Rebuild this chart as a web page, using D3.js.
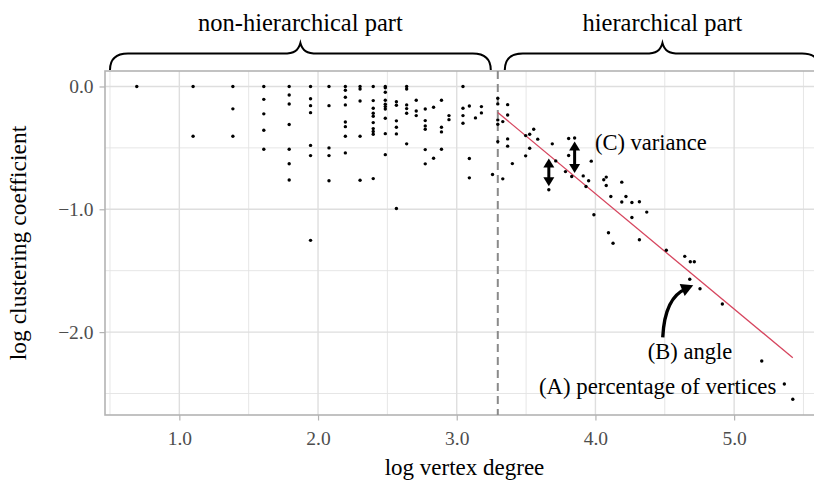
<!DOCTYPE html>
<html>
<head>
<meta charset="utf-8">
<script src="https://cdn.jsdelivr.net/npm/d3@7"></script>
<style>
  body { margin: 0; background: #fff; }
  svg { display: block; }
  text { font-family: "Liberation Serif", "Times New Roman", serif; }
</style>
</head>
<body>
<svg id="chart" width="814" height="484"></svg>
<script>
// log degree of each vertex group and the log clustering coefficients observed at that degree
const logDegree = [
  0.693, 1.099, 1.386, 1.609, 1.792, 1.946, 2.079, 2.197, 2.303, 2.398,
  2.485, 2.565, 2.639, 2.708, 2.773, 2.833, 2.890, 2.944, 3.045, 3.091,
  3.135, 3.178, 3.258, 3.296, 3.332, 3.367, 3.401, 3.497, 3.526, 3.555,
  3.584, 3.664, 3.689, 3.714, 3.784, 3.807, 3.829, 3.850, 3.912, 3.932,
  3.951, 3.970, 3.989, 4.060, 4.078, 4.094, 4.111, 4.127, 4.190, 4.220,
  4.263, 4.317, 4.370, 4.511, 4.644, 4.680, 4.684, 4.713, 4.754, 4.915,
  5.199, 5.362, 5.423
];
const logClustering = [
  [0], [0, -0.405], [0, -0.182, -0.405], [0, -0.105, -0.223, -0.357, -0.511],
  [0, -0.069, -0.143, -0.310, -0.511, -0.629, -0.762],
  [0, -0.100, -0.156, -0.213, -0.480, -0.563, -1.253],
  [0, -0.156, -0.500, -0.563, -0.768],
  [0, -0.031, -0.088, -0.150, -0.289, -0.327, -0.405, -0.541],
  [0, -0.020, -0.118, -0.405, -0.763],
  [0, -0.115, -0.177, -0.218, -0.242, -0.294, -0.343, -0.367, -0.389, -0.750],
  [0, -0.010, -0.047, -0.112, -0.145, -0.164, -0.183, -0.259, -0.384, -0.555],
  [-0.124, -0.153, -0.280, -0.332, -0.386, -0.993],
  [0, -0.020, -0.150, -0.180, -0.218, -0.467],
  [-0.112, -0.200, -0.237],
  [-0.183, -0.278, -0.321, -0.348, -0.514, -0.630],
  [-0.169, -0.584],
  [-0.112, -0.332, -0.370, -0.511],
  [-0.237, -0.270],
  [0, -0.177, -0.237, -0.299],
  [-0.159, -0.587, -0.744],
  [-0.256],
  [-0.164, -0.215],
  [-0.717],
  [-0.096, -0.142, -0.272, -0.307, -0.449],
  [-0.286, -0.752],
  [-0.148, -0.232, -0.427, -0.486],
  [-0.628],
  [-0.400, -0.565],
  [-0.389, -0.503],
  [-0.348],
  [-0.429],
  [-0.841],
  [-0.467],
  [-0.606],
  [-0.693],
  [-0.424, -0.562],
  [-0.733],
  [-0.419],
  [-0.728],
  [-0.815],
  [-0.768],
  [-0.608],
  [-1.045],
  [-0.760],
  [-0.738, -0.806],
  [-1.191],
  [-0.896],
  [-1.277],
  [-0.779, -0.941],
  [-0.896],
  [-0.945, -1.067],
  [-0.939, -1.248],
  [-1.023],
  [-1.334],
  [-1.383],
  [-1.570],
  [-1.427],
  [-1.427],
  [-1.647],
  [-1.771],
  [-2.235],
  [-2.423],
  [-2.547]
];

const xMajorTicks = [1, 2, 3, 4, 5];
const xMinorTicks = [0.5, 1.5, 2.5, 3.5, 4.5, 5.5];
const yMajorTicks = [0, -1, -2];
const yMinorTicks = [-0.5, -1.5, -2.5];

// split between the two regimes and the fitted power law of the hierarchical part
const splitDegree = 3.296;
const fitIntercept = 2.883;
const fitSlope = -0.939;
const fitFrom = 3.296, fitTo = 5.423;

const partLabels = ["non-hierarchical part", "hierarchical part"];

const points = logDegree.flatMap((x, i) => logClustering[i].map(y => ({ x, y })));

const svg = d3.select("#chart");
const panel = { left: 105, right: 824, top: 71, bottom: 415 };

const x = d3.scaleLinear().domain([0.464, 5.648]).range([panel.left, panel.right]);
const y = d3.scaleLinear().domain([0.126, -2.675]).range([panel.top, panel.bottom]);
const fmt = d3.format(".1f");

const grid = svg.append("g");
grid.selectAll(".vminor").data(xMinorTicks).join("line")
  .attr("x1", d => x(d)).attr("x2", d => x(d))
  .attr("y1", panel.top).attr("y2", panel.bottom)
  .attr("stroke", "#e3e3e3").attr("stroke-width", 0.9);
grid.selectAll(".hminor").data(yMinorTicks).join("line")
  .attr("y1", d => y(d)).attr("y2", d => y(d))
  .attr("x1", panel.left).attr("x2", panel.right)
  .attr("stroke", "#e3e3e3").attr("stroke-width", 0.9);
grid.selectAll(".vmajor").data(xMajorTicks).join("line")
  .attr("x1", d => x(d)).attr("x2", d => x(d))
  .attr("y1", panel.top).attr("y2", panel.bottom)
  .attr("stroke", "#dedede").attr("stroke-width", 1.4);
grid.selectAll(".hmajor").data(yMajorTicks).join("line")
  .attr("y1", d => y(d)).attr("y2", d => y(d))
  .attr("x1", panel.left).attr("x2", panel.right)
  .attr("stroke", "#dedede").attr("stroke-width", 1.4);

// panel border
svg.append("rect")
  .attr("x", panel.left).attr("y", panel.top)
  .attr("width", panel.right - panel.left).attr("height", panel.bottom - panel.top)
  .attr("fill", "none").attr("stroke", "#b3b3b3").attr("stroke-width", 1.6);

// axes
const xAxis = svg.append("g").attr("transform", `translate(0,${panel.bottom})`)
  .call(d3.axisBottom(x).tickValues(xMajorTicks).tickFormat(fmt).tickSize(5.5).tickPadding(6));
const yAxis = svg.append("g").attr("transform", `translate(${panel.left},0)`)
  .call(d3.axisLeft(y).tickValues(yMajorTicks).tickFormat(fmt).tickSize(5.5).tickPadding(6));
[xAxis, yAxis].forEach(g => {
  g.select(".domain").remove();
  g.selectAll(".tick line").attr("stroke", "#b3b3b3").attr("stroke-width", 1.2);
  g.selectAll(".tick text").attr("fill", "#4d4d4d").style("font-size", "19.5px")
    .style("font-family", "'Liberation Serif', serif");
});
xAxis.selectAll(".tick text").attr("dy", "0.95em");

// split marker
svg.append("line")
  .attr("x1", x(splitDegree)).attr("x2", x(splitDegree))
  .attr("y1", panel.top).attr("y2", panel.bottom)
  .attr("stroke", "#8a8a8a").attr("stroke-width", 2)
  .attr("stroke-dasharray", "8,5");

// fitted line
svg.append("line")
  .attr("x1", x(fitFrom)).attr("y1", y(fitIntercept + fitSlope * fitFrom))
  .attr("x2", x(fitTo)).attr("y2", y(fitIntercept + fitSlope * fitTo))
  .attr("stroke", "#d6455e").attr("stroke-width", 1.3);

// vertices
svg.append("g").selectAll("circle").data(points).join("circle")
  .attr("cx", d => x(d.x)).attr("cy", d => y(d.y))
  .attr("r", 1.7).attr("fill", "#000");

// axis titles
svg.append("text")
  .attr("x", (panel.left + panel.right) / 2).attr("y", 475)
  .attr("text-anchor", "middle").style("font-size", "23px").attr("fill", "#000")
  .text("log vertex degree");
svg.append("text")
  .attr("transform", `translate(26,${(panel.top + panel.bottom) / 2}) rotate(-90)`)
  .attr("text-anchor", "middle").style("font-size", "23.5px").attr("fill", "#000")
  .text("log clustering coefficient");

// braces over the two regimes
function brace(x1, x2, yEnd, yArm, yTip) {
  const xm = (x1 + x2) / 2;
  return `M${x1},${yEnd} C${x1},${yArm + 6} ${x1 + 5},${yArm} ${x1 + 18},${yArm}` +
    ` L${xm - 17},${yArm} C${xm - 6},${yArm} ${xm - 2},${yArm - 3} ${xm},${yTip}` +
    ` C${xm + 2},${yArm - 3} ${xm + 6},${yArm} ${xm + 17},${yArm}` +
    ` L${x2 - 18},${yArm} C${x2 - 5},${yArm} ${x2},${yArm + 6} ${x2},${yEnd}`;
}
const braceSpans = [[x(0.5), x(splitDegree) - 7], [x(splitDegree) + 7, x(5.62)]];
braceSpans.forEach((s, i) => {
  svg.append("path").attr("d", brace(s[0], s[1], 70, 53.5, 43))
    .attr("fill", "none").attr("stroke", "#000").attr("stroke-width", 2);
  svg.append("text")
    .attr("x", (s[0] + s[1]) / 2).attr("y", 31)
    .attr("text-anchor", "middle").style("font-size", "24.5px").attr("fill", "#000")
    .text(partLabels[i]);
});

// (C) variance: distance of a vertex from the fitted line
function doubleArrow(px, yA, yB) {
  const head = 9, half = 5.5;
  const top = Math.min(yA, yB), bot = Math.max(yA, yB);
  const g = svg.append("g");
  g.append("line").attr("x1", px).attr("x2", px)
    .attr("y1", top + head - 1).attr("y2", bot - head + 1)
    .attr("stroke", "#000").attr("stroke-width", 3);
  g.append("path").attr("d", `M${px},${top} L${px - half},${top + head} L${px + half},${top + head} Z`);
  g.append("path").attr("d", `M${px},${bot} L${px - half},${bot - head} L${px + half},${bot - head} Z`);
}
const fitAt = v => fitIntercept + fitSlope * v;
const varianceVertices = [{ x: 3.664, y: -0.841 }, { x: 3.850, y: -0.419 }];
varianceVertices.forEach(v => {
  const yLine = y(fitAt(v.x)), yPt = y(v.y);
  const dir = yPt > yLine ? 1 : -1;
  doubleArrow(x(v.x), yLine + 3.5 * dir, yPt - 3.5 * dir);
});
svg.append("text").attr("x", 595).attr("y", 150)
  .style("font-size", "22.5px").attr("fill", "#000").text("(C) variance");

// (B) angle: curved pointer to the fitted line
const tip = { x: x(4.680) + 3.5, y: y(-1.570) + 6 };
const start = { x: tip.x - 30.5, y: tip.y + 52 };
const ctrl = { x: start.x + 2, y: tip.y + 12 };
svg.append("path")
  .attr("d", `M${start.x},${start.y} Q${ctrl.x},${ctrl.y} ${tip.x - 7},${tip.y + 3.5}`)
  .attr("fill", "none").attr("stroke", "#000").attr("stroke-width", 3.4);
{
  const ang = Math.atan2(tip.y - ctrl.y, tip.x - ctrl.x);
  const L = 12, W = 6.5;
  const bx = tip.x - L * Math.cos(ang), by = tip.y - L * Math.sin(ang);
  const nx = -Math.sin(ang) * W, ny = Math.cos(ang) * W;
  svg.append("path")
    .attr("d", `M${tip.x},${tip.y} L${bx + nx},${by + ny} L${bx - nx},${by - ny} Z`)
    .attr("fill", "#000");
}
svg.append("text").attr("x", 690).attr("y", 359)
  .attr("text-anchor", "middle").style("font-size", "22.5px").attr("fill", "#000")
  .text("(B) angle");

// (A) share of vertices in the hierarchical part
svg.append("text").attr("x", x(5.362) - 8).attr("y", 394)
  .attr("text-anchor", "end").style("font-size", "22.8px").attr("fill", "#000")
  .text("(A) percentage of vertices");
</script>
</body>
</html>
